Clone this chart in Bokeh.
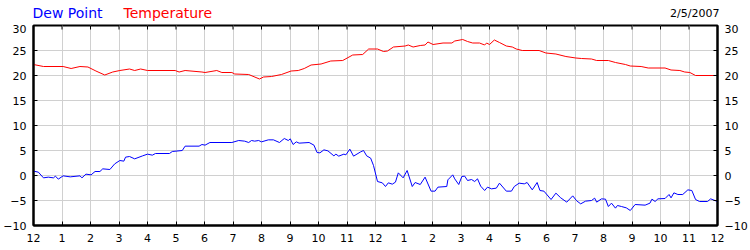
from bokeh.plotting import figure
from bokeh.models import Range1d, LinearAxis, FixedTicker
from bokeh.layouts import column
from bokeh.core.properties import value
from bokeh.embed import file_html
from bokeh.resources import INLINE

# ---- data (hours after midnight, degrees) ----
temp_hours = [0.00, 0.35, 1.04, 1.32, 1.63, 1.91, 2.19, 2.50, 2.78, 3.03, 3.37, 3.55, 3.76, 4.00,
              4.97, 5.11, 5.32, 5.91, 6.02, 6.43, 6.61, 6.96, 7.06, 7.55, 7.93, 8.07, 8.35, 8.70,
              9.04, 9.29, 9.50, 9.74, 10.09, 10.43, 10.85, 11.20, 11.55, 11.76, 12.07, 12.28,
              12.42, 12.63, 13.04, 13.15, 13.32, 13.57, 13.74, 13.84, 14.02, 14.37, 14.68, 14.78,
              15.06, 15.23, 15.41, 15.65, 15.83, 15.90, 16.00, 16.17, 16.35, 16.59, 16.80, 16.94,
              17.15, 17.74, 17.98, 18.33, 18.68, 19.03, 19.23, 19.58, 19.76, 20.17, 20.42, 20.77,
              20.94, 21.32, 21.57, 22.16, 22.37, 22.68, 22.85, 23.03, 23.23, 24.00]
temperature = [22.2, 21.8, 21.8, 21.4, 21.8, 21.7, 20.9, 20.1, 20.7, 21.0, 21.3, 21.0, 21.3, 21.0,
               21.0, 20.7, 21.0, 20.7, 20.6, 21.0, 20.6, 20.6, 20.3, 20.2, 19.3, 19.7, 19.8, 20.2,
               20.9, 21.0, 21.4, 22.1, 22.3, 22.9, 23.0, 24.1, 24.2, 25.3, 25.3, 24.8,
               24.9, 25.7, 25.9, 26.1, 25.7, 26.0, 26.1, 26.7, 26.2, 26.5, 26.5, 26.9,
               27.2, 26.8, 26.5, 26.5, 26.1, 26.5, 26.2, 27.1, 26.6, 25.9, 25.7, 25.3,
               25.0, 25.0, 24.5, 24.3, 23.8, 23.5, 23.4, 23.3, 23.0, 23.0, 22.6, 22.2,
               21.9, 21.8, 21.5, 21.5, 21.1, 21.0, 20.7, 20.6, 20.0, 20.0]

dew_hours = [0.00, 0.17, 0.35, 0.52, 0.70, 0.77, 0.87, 1.04, 1.29, 1.63, 1.70, 1.84, 2.02, 2.16,
             2.33, 2.43, 2.68, 2.85, 3.03, 3.17, 3.23, 3.37, 3.55, 3.83, 4.00, 4.17, 4.28, 4.77,
             4.87, 5.22, 5.32, 5.81, 5.91, 6.02, 6.19, 6.96, 7.20, 7.41, 7.55, 7.65, 7.76, 7.90,
             8.00, 8.24, 8.42, 8.63, 8.80, 8.94, 9.01, 9.11, 9.22, 9.32, 9.67, 9.84, 9.95, 10.05,
             10.19, 10.33, 10.54, 10.61, 10.71, 10.89, 10.96, 11.10, 11.23, 11.48, 11.58, 11.69,
             11.83, 11.93, 12.07, 12.24, 12.35, 12.45, 12.59, 12.70, 12.80, 12.97, 13.11, 13.29,
             13.39, 13.57, 13.74, 13.95, 14.09, 14.19, 14.50, 14.54, 14.71, 14.78, 14.92, 15.03,
             15.13, 15.23, 15.37, 15.48, 15.58, 15.69, 15.83, 15.93, 16.07, 16.24, 16.35, 16.59,
             16.77, 16.87, 17.04, 17.22, 17.32, 17.50, 17.67, 17.77, 17.91, 18.16, 18.33, 18.50,
             18.71, 18.92, 19.06, 19.20, 19.37, 19.58, 19.69, 19.76, 19.93, 20.07, 20.17, 20.28,
             20.42, 20.49, 20.63, 20.80, 20.94, 21.11, 21.46, 21.63, 21.70, 21.81, 21.91, 22.16,
             22.30, 22.37, 22.47, 22.61, 22.78, 22.96, 23.10, 23.23, 23.37, 23.65, 23.76, 24.00]
dew_point = [0.87, 0.67, -0.47, -0.33, -0.47, -0.13, -0.73, -0.07, -0.27, -0.07, -0.47, 0.27, 0.13, 0.8,
             0.8, 1.33, 1.2, 2.33, 3.0, 2.87, 3.67, 3.8, 3.33, 3.93, 4.27, 4.07, 4.4, 4.4,
             4.8, 5.0, 5.87, 5.87, 6.2, 6.07, 6.6, 6.6, 7.0, 6.87, 6.6, 7.0, 6.87, 7.0,
             6.73, 7.13, 7.13, 6.6, 7.4, 7.0, 7.33, 6.2, 6.73, 6.47, 6.6, 6.07, 4.6, 4.53,
             5.13, 4.93, 3.93, 4.27, 3.87, 4.27, 4.13, 5.27, 3.87, 4.73, 5.0, 3.93,
             3.47, 2.0, -1.2, -1.47, -2.2, -1.47, -1.73, -1.33, 0.53, -0.47, 1.0, -2.2,
             -1.4, -1.8, -0.33, -3.13, -3.13, -2.33, -2.2, -0.87, 0.13, -0.67, -1.8, -0.2,
             -0.13, -1.0, -0.8, -1.2, -0.67, -2.13, -3.0, -2.33, -2.67, -2.53, -1.53, -3.13,
             -3.13, -2.2, -1.53, -1.67, -1.4, -2.87, -1.4, -3.0, -3.13, -4.8, -3.53, -4.47,
             -5.33, -4.07, -5.07, -5.67, -5.13, -5.0, -4.53, -5.33, -4.67, -4.73, -6.2, -5.53,
             -6.53, -6.0, -6.2, -6.47, -7.0, -5.8, -5.93, -5.53, -4.73, -5.2, -4.67, -4.6,
             -3.8, -4.47, -3.47, -3.8, -3.8, -2.87, -3.0, -4.8, -5.2, -5.2, -4.67, -5.2]

x_ticks = list(range(0, 25))
x_tick_labels = ["12", "1", "2", "3", "4", "5", "6", "7", "8", "9", "10", "11",
                 "12", "1", "2", "3", "4", "5", "6", "7", "8", "9", "10", "11", "12"]
y_ticks = [-10, -5, 0, 5, 10, 15, 20, 25, 30]

series_names = ["Dew Point", "Temperature"]
series_colors = ["#0000ff", "#ff0000"]
date_text = "2/5/2007"

FONT = "DejaVu Sans"
W = 750
HEADER_H = 24
MAIN_H = 226

# ---------- header strip holding the coloured series names and the date ----------
hdr = figure(width=W, height=HEADER_H, output_backend="svg", toolbar_location=None,
             x_range=Range1d(0, W), y_range=Range1d(0, HEADER_H),
             min_border_left=0, min_border_right=0, min_border_top=0, min_border_bottom=0,
             x_axis_location=None, y_axis_location=None)
hdr.frame_align = False
hdr.grid.visible = False
hdr.outline_line_color = None
hdr.background_fill_color = "white"
hdr.border_fill_color = "white"
base = 11.5
hdr.text(x=[32, 123], y=[base, base], text=series_names, text_color=series_colors,
         text_font=value(FONT), text_font_size="14px", text_baseline="alphabetic")
hdr.text(x=[719], y=[base], text=[date_text], text_color="black", text_align="right",
         text_font=value(FONT), text_font_size="11px", text_baseline="alphabetic")

# ---------- main chart ----------
p = figure(width=W, height=MAIN_H, output_backend="svg", toolbar_location=None,
           x_range=Range1d(x_ticks[0], x_ticks[-1]), y_range=Range1d(y_ticks[0], y_ticks[-1]),
           min_border_left=30, min_border_right=30, min_border_top=1, min_border_bottom=25,
           x_axis_location=None, y_axis_location=None)
p.frame_align = False
p.background_fill_color = "white"
p.border_fill_color = "white"
p.outline_line_color = "black"
p.outline_line_width = 2

xt = FixedTicker(ticks=x_ticks)
yt = FixedTicker(ticks=y_ticks)
overrides = {t: lab for t, lab in zip(x_ticks, x_tick_labels)}

def style(ax, standoff=6):
    ax.axis_line_color = "black"
    ax.axis_line_width = 2
    ax.major_tick_in = 4
    ax.major_tick_out = 0
    ax.major_tick_line_color = "black"
    ax.major_tick_line_width = 1
    ax.minor_tick_line_color = None
    ax.major_label_text_font = FONT
    ax.major_label_text_font_size = "11px"
    ax.major_label_text_color = "black"
    ax.major_label_standoff = standoff

bottom = LinearAxis(ticker=xt, major_label_overrides=overrides)
style(bottom, standoff=8)
p.add_layout(bottom, "below")
left = LinearAxis(ticker=yt)
style(left, standoff=7)
p.add_layout(left, "left")
right = LinearAxis(ticker=yt)
style(right, standoff=7)
p.add_layout(right, "right")

p.xgrid.ticker = xt
p.ygrid.ticker = yt
p.xgrid.grid_line_color = "#d0d0d0"
p.ygrid.grid_line_color = "#d0d0d0"
p.xgrid.grid_line_width = 1
p.ygrid.grid_line_width = 1

# tick marks along the top edge (4 px = 0.8 data units inward)
top_y = y_ticks[-1]
p.segment(x0=x_ticks, y0=[top_y] * len(x_ticks), x1=x_ticks, y1=[top_y - 0.8] * len(x_ticks),
          line_color="black", line_width=1)

p.line(temp_hours, temperature, line_color=series_colors[1], line_width=1)
p.line(dew_hours, dew_point, line_color=series_colors[0], line_width=1)

layout = column(hdr, p, spacing=0)
open("out.html", "w").write(file_html(layout, INLINE))
